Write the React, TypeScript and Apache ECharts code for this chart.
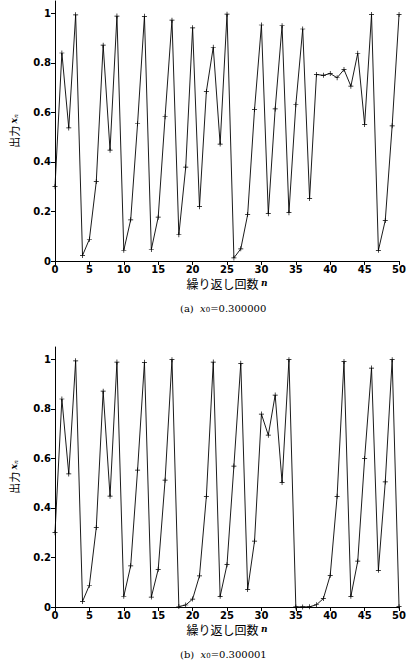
import React, { useEffect, useRef } from "react";
import * as echarts from "echarts";

const valuesA = [
  0.3, 0.84, 0.5376, 0.9943, 0.0225, 0.0879, 0.3208, 0.8716, 0.4476, 0.989,
  0.0434, 0.1661, 0.5542, 0.9883, 0.0464, 0.177, 0.5826, 0.9727, 0.1061, 0.3794,
  0.9418, 0.2193, 0.6849, 0.8633, 0.472, 0.9969, 0.0125, 0.0493, 0.1873, 0.612,
  0.953, 0.191, 0.614, 0.95, 0.195, 0.631, 0.937, 0.252, 0.753, 0.75,
  0.757, 0.74, 0.773, 0.706, 0.839, 0.551, 0.995, 0.043, 0.164, 0.546,
  0.995,
];

const valuesB = [
  0.3, 0.84, 0.5376, 0.9943, 0.0225, 0.0879, 0.3208, 0.8716, 0.4476, 0.989,
  0.0434, 0.1661, 0.553, 0.988, 0.04, 0.152, 0.512, 0.999, 0.002, 0.008,
  0.032, 0.126, 0.447, 0.989, 0.043, 0.171, 0.569, 0.984, 0.071, 0.266,
  0.779, 0.694, 0.856, 0.503, 0.999, 0.0005, 0.0002, 0.001, 0.009, 0.034,
  0.128, 0.447, 0.991, 0.043, 0.185, 0.6, 0.965, 0.148, 0.505, 0.999,
  0.0015,
];

const yTicks = [0, 0.2, 0.4, 0.6, 0.8, 1];
const xTicks = [0, 5, 10, 15, 20, 25, 30, 35, 40, 45, 50];
const captions = ["(a)", "(b)"];
const x0Labels = ["0.300000", "0.300001"];
const xTitle = "繰り返し回数";
const yTitle = "出力";

const PLUS =
  "path://M-0.14,-1H0.14V-0.14H1V0.14H0.14V1H-0.14V0.14H-1V-0.14H-0.14Z";

export default function App() {
  const ref = useRef<HTMLDivElement>(null);
  useEffect(() => {
    if (!ref.current) return;
    const chart = echarts.init(ref.current, null, { renderer: "svg" });
    const tickFont = {
      fontFamily: "DejaVu Sans",
      fontWeight: "bold" as const,
      fontSize: 10,
      color: "#000",
    };
    const grids = [
      { left: 52, right: 5, top: 1, height: 260 },
      { left: 52, right: 5, top: 347, height: 260 },
    ];
    const xAxes = grids.map((_, i) => ({
      type: "value" as const,
      gridIndex: i,
      min: 0,
      max: 50,
      interval: 5,
      name: xTitle + " {i|n}",
      nameLocation: "middle" as const,
      nameGap: 16,
      nameTextStyle: {
        fontFamily: "Noto Sans CJK JP",
        fontSize: 12,
        color: "#000",
        verticalAlign: "top" as const,
        rich: {
          i: {
            fontFamily: "DejaVu Serif",
            fontStyle: "italic" as const,
            fontWeight: "bold" as const,
            fontSize: 9,
            color: "#000",
          },
        },
      },
      axisLine: { lineStyle: { color: "#000", width: 1 } },
      axisTick: {
        length: 4,
        lineStyle: { color: "#000" },
        customValues: xTicks,
      },
      axisLabel: { ...tickFont, margin: 3, customValues: xTicks },
      splitLine: { show: false },
    }));
    const yAxes = grids.map((_, i) => ({
      type: "value" as const,
      gridIndex: i,
      min: 0,
      max: 1.05,
      name: yTitle + " {i|x}{s|n}",
      nameLocation: "middle" as const,
      nameGap: 36,
      nameRotate: 90,
      nameTextStyle: {
        fontFamily: "Noto Sans CJK JP",
        fontSize: 11,
        color: "#000",
        rich: {
          i: {
            fontFamily: "DejaVu Serif",
            fontStyle: "italic" as const,
            fontWeight: "bold" as const,
            fontSize: 9,
            color: "#000",
          },
          s: {
            fontFamily: "DejaVu Serif",
            fontStyle: "italic" as const,
            fontSize: 6,
            color: "#000",
            verticalAlign: "bottom" as const,
          },
        },
      },
      axisLine: { show: true, lineStyle: { color: "#000", width: 1 } },
      axisTick: {
        show: true,
        length: 4,
        lineStyle: { color: "#000" },
        customValues: yTicks,
      },
      axisLabel: { ...tickFont, margin: 4, customValues: yTicks },
      splitLine: { show: false },
    }));
    const mkSeries = (vals: number[], i: number) => ({
      type: "line" as const,
      xAxisIndex: i,
      yAxisIndex: i,
      data: vals.map((v, n) => [n, v]),
      symbol: PLUS,
      symbolSize: 5,
      showAllSymbol: true,
      itemStyle: { color: "#000" },
      lineStyle: { color: "#000", width: 0.9 },
    });
    const captionY = [303, 649];
    chart.setOption({
      animation: false,
      backgroundColor: "#fff",
      grid: grids,
      xAxis: xAxes,
      yAxis: yAxes,
      series: [mkSeries(valuesA, 0), mkSeries(valuesB, 1)],
      graphic: captions.map((c, i) => ({
        type: "text",
        left: 180,
        top: captionY[i],
        style: {
          text: c + "  {i|x}{s|0}=" + x0Labels[i],
          fontFamily: "DejaVu Serif",
          fontSize: 10,
          fill: "#000",
          rich: {
            i: {
              fontFamily: "DejaVu Serif",
              fontStyle: "italic",
              fontSize: 10,
              fill: "#000",
            },
            s: {
              fontFamily: "DejaVu Serif",
              fontSize: 7,
              fill: "#000",
              verticalAlign: "bottom",
            },
          },
        },
      })),
    });
    return () => chart.dispose();
  }, []);
  return (
    <div
      ref={ref}
      style={{ position: "absolute", left: 0, top: 0, width: 409, height: 660 }}
    />
  );
}
